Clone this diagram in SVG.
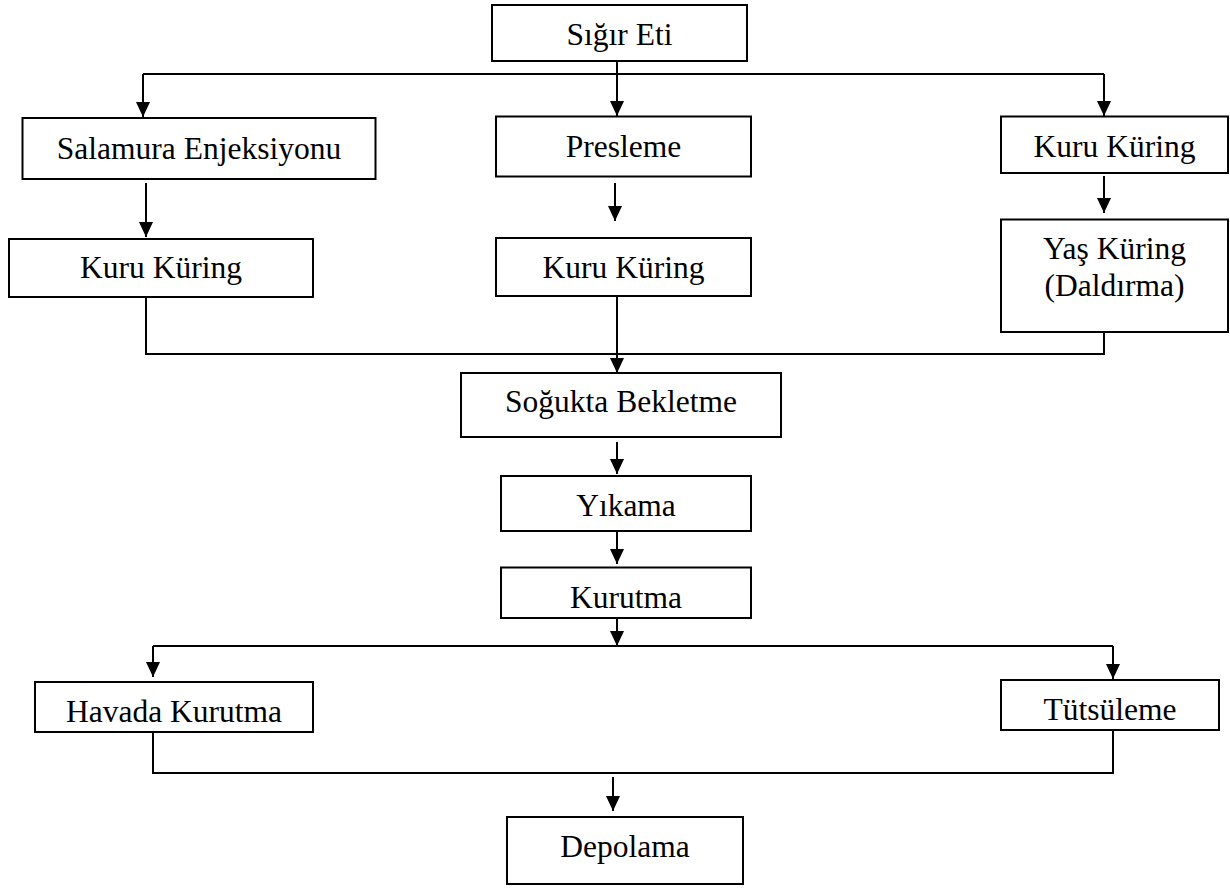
<svg xmlns="http://www.w3.org/2000/svg" width="1230" height="889" viewBox="0 0 1230 889">
<style>
.box{fill:#fff;stroke:#000;stroke-width:2}
.lbl{font-family:"Liberation Serif","Times New Roman",serif;font-size:31.5px;fill:#000;text-anchor:middle}
.con{fill:none;stroke:#000;stroke-width:2}
</style>
<defs>
<marker id="arr" viewBox="0 0 15 14" refX="15" refY="7" markerWidth="15" markerHeight="14" markerUnits="userSpaceOnUse" orient="auto">
<path d="M0,0 L15,7 L0,14 z" fill="#000"/>
</marker>
</defs>
<rect width="1230" height="889" fill="#fff"/>
<g id="connectors">
<path class="con" d="M617,61 V116" marker-end="url(#arr)"/>
<path class="con" d="M143,74 H1104"/>
<path class="con" d="M143,74 V117" marker-end="url(#arr)"/>
<path class="con" d="M1104,74 V116" marker-end="url(#arr)"/>
<path class="con" d="M146,183 V237" marker-end="url(#arr)"/>
<path class="con" d="M615,183 V221" marker-end="url(#arr)"/>
<path class="con" d="M1104,176 V213" marker-end="url(#arr)"/>
<path class="con" d="M146,297 V354 H1104 V332"/>
<path class="con" d="M617,296 V373" marker-end="url(#arr)"/>
<path class="con" d="M617,442 V474" marker-end="url(#arr)"/>
<path class="con" d="M617,532 V564" marker-end="url(#arr)"/>
<path class="con" d="M617,618 V646" marker-end="url(#arr)"/>
<path class="con" d="M153,646 H1113"/>
<path class="con" d="M153,646 V677" marker-end="url(#arr)"/>
<path class="con" d="M1113,646 V679" marker-end="url(#arr)"/>
<path class="con" d="M153,732 V773 H1113 V730"/>
<path class="con" d="M613,777 V811" marker-end="url(#arr)"/>
</g>
<g id="sigir-eti"><rect class="box" x="492" y="5" width="255" height="56"/><text class="lbl" x="619.5" y="45">Sığır Eti</text></g>
<g id="salamura"><rect class="box" x="22.5" y="118" width="353" height="61"/><text class="lbl" x="199" y="159">Salamura Enjeksiyonu</text></g>
<g id="presleme"><rect class="box" x="496" y="116.5" width="255" height="60"/><text class="lbl" x="623.5" y="157">Presleme</text></g>
<g id="kuru-kuring-r"><rect class="box" x="1001" y="116.5" width="227" height="56.5"/><text class="lbl" x="1114.5" y="157">Kuru Küring</text></g>
<g id="kuru-kuring-l"><rect class="box" x="9" y="239" width="304" height="58"/><text class="lbl" x="161" y="278">Kuru Küring</text></g>
<g id="kuru-kuring-m"><rect class="box" x="496" y="238" width="255" height="58"/><text class="lbl" x="623.5" y="278">Kuru Küring</text></g>
<g id="yas-kuring"><rect class="box" x="1001" y="219.5" width="227" height="112.5"/><text class="lbl" x="1114.5" y="258.5">Yaş Küring</text><text class="lbl" x="1114.5" y="295.5">(Daldırma)</text></g>
<g id="sogukta"><rect class="box" x="461" y="373" width="320" height="64"/><text class="lbl" x="621" y="412">Soğukta Bekletme</text></g>
<g id="yikama"><rect class="box" x="501" y="476" width="250" height="55"/><text class="lbl" x="626" y="516">Yıkama</text></g>
<g id="kurutma"><rect class="box" x="501" y="567.5" width="250" height="50.5"/><text class="lbl" x="626" y="608">Kurutma</text></g>
<g id="havada"><rect class="box" x="35" y="682" width="278" height="50"/><text class="lbl" x="174" y="722">Havada Kurutma</text></g>
<g id="tutsuleme"><rect class="box" x="1001" y="680" width="218" height="50"/><text class="lbl" x="1110" y="720">Tütsüleme</text></g>
<g id="depolama"><rect class="box" x="507" y="817" width="236" height="67"/><text class="lbl" x="625" y="857">Depolama</text></g>
</svg>
